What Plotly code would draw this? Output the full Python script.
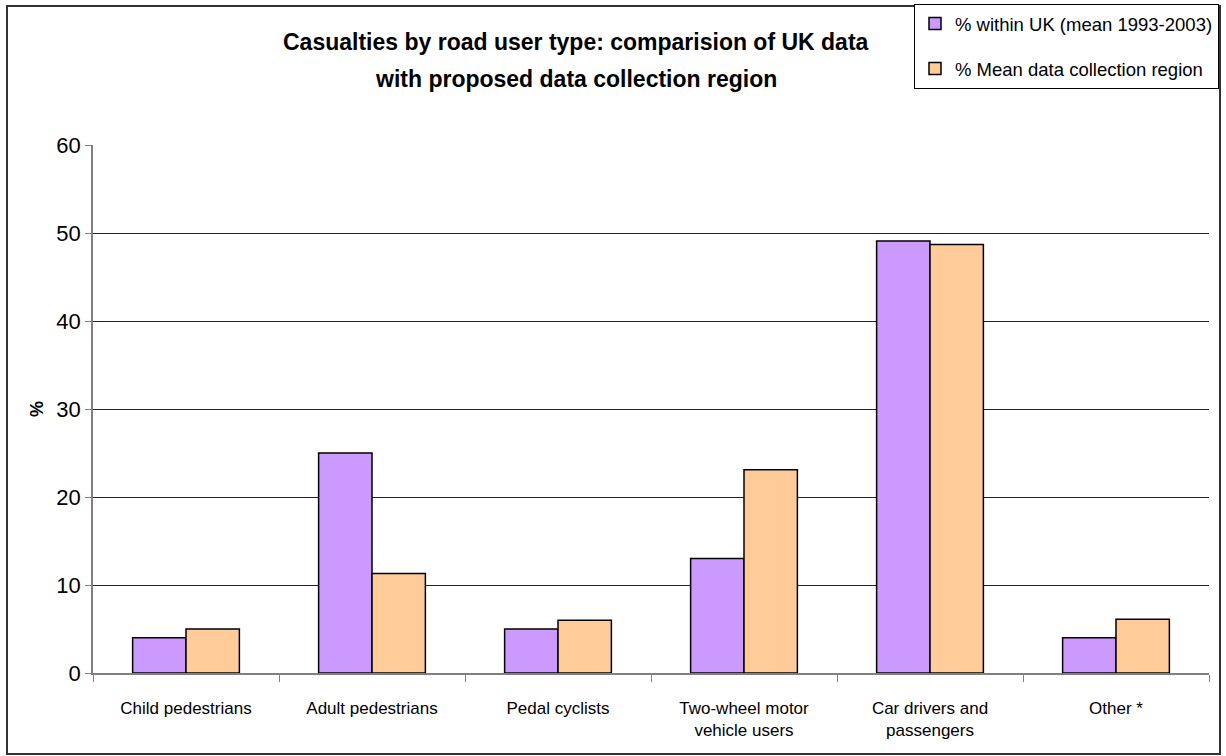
import plotly.graph_objects as go

categories = ["Child pedestrians", "Adult pedestrians", "Pedal cyclists",
              "Two-wheel motor<br>vehicle users", "Car drivers and<br>passengers", "Other *"]
uk_mean = [4.0, 25.0, 5.0, 13.0, 49.1, 4.0]
region_mean = [5.0, 11.3, 6.0, 23.1, 48.7, 6.1]
series_names = ["% within UK (mean 1993-2003)", "% Mean data collection region"]
title_lines = ["Casualties by road user type: comparision of UK data",
               "with proposed data collection region"]
y_ticks = [0, 10, 20, 30, 40, 50, 60]

FONT = "Liberation Sans, Arial, sans-serif"
W, H = 1226, 756
L, R, T, B = 93, 17, 145, 83
pw, ph = W - L - R, H - T - B


def px_x(p):
    return (p - L) / pw


def px_y(p):
    return (H - B - p) / ph


fig = go.Figure()
fig.add_trace(go.Bar(x=categories, y=uk_mean, name=series_names[0], legendgroup="a",
                     marker=dict(color="#CC99FF", line=dict(color="#000000", width=1.5))))
fig.add_trace(go.Bar(x=categories, y=region_mean, name=series_names[1], legendgroup="b",
                     marker=dict(color="#FFCC99", line=dict(color="#000000", width=1.5))))

annotations = [
    dict(text="<b>%s</b>" % title_lines[0], xref="paper", yref="paper",
         x=px_x(576), y=px_y(42), xanchor="center", yanchor="middle", showarrow=False,
         font=dict(size=23, family=FONT, color="black")),
    dict(text="<b>%s</b>" % title_lines[1], xref="paper", yref="paper",
         x=px_x(576), y=px_y(79), xanchor="center", yanchor="middle", showarrow=False,
         font=dict(size=23, family=FONT, color="black")),
]

fig.update_layout(
    width=W, height=H,
    margin=dict(l=L, r=R, t=T, b=B, autoexpand=False),
    paper_bgcolor="white", plot_bgcolor="white",
    barmode="group", bargap=0.426, bargroupgap=0,
    font=dict(family=FONT, color="black"),
    annotations=annotations,
    legend=dict(x=px_x(1219), xanchor="right", y=px_y(4), yanchor="top",
                bgcolor="white", bordercolor="black", borderwidth=1,
                font=dict(size=18.5, family=FONT), traceorder="grouped",
                itemwidth=30, tracegroupgap=18),
    showlegend=True,
    xaxis=dict(type="category", tickson="boundaries", ticks="outside", ticklen=7,
               tickcolor="#808080", showline=True, linecolor="#808080", linewidth=1.5,
               showgrid=False, tickfont=dict(size=17, family=FONT),
               ticklabelstandoff=19, fixedrange=True),
    yaxis=dict(range=[0, 60], tickvals=y_ticks, ticks="outside", ticklen=6,
               tickcolor="#808080", showline=True, linecolor="#808080", linewidth=1.5,
               showgrid=True, gridcolor="#222222", gridwidth=1, zeroline=False,
               tickfont=dict(size=22, family=FONT),
               title=dict(text="<b>%</b>", font=dict(size=18, family=FONT), standoff=8)),
    shapes=[dict(type="rect", xref="paper", yref="paper",
                 x0=px_x(7), x1=px_x(1220), y0=px_y(754), y1=px_y(6),
                 line=dict(color="#333333", width=2), fillcolor="rgba(0,0,0,0)", layer="below")],
)

fig.write_html("out.html")
